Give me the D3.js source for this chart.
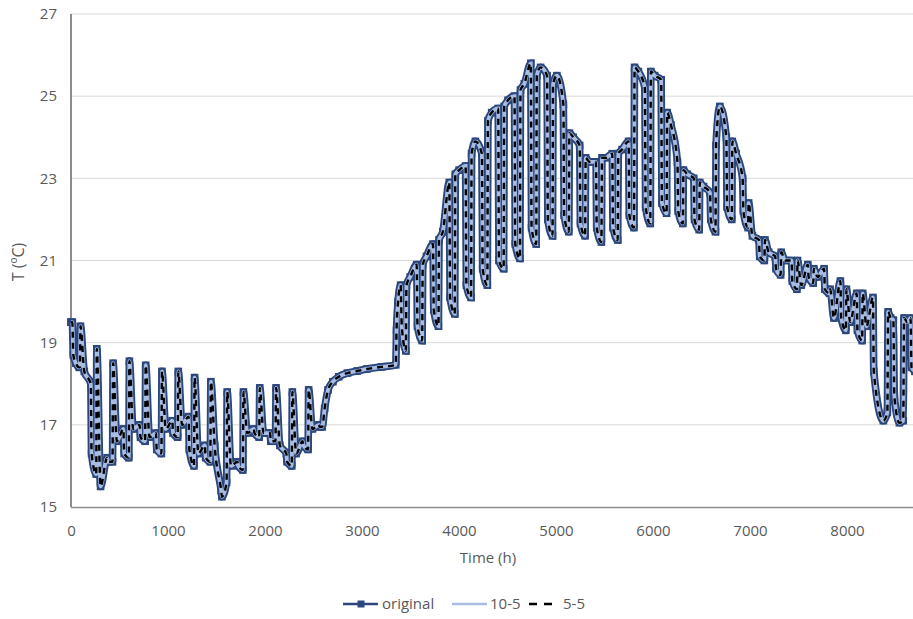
<!DOCTYPE html>
<html><head><meta charset="utf-8">
<script src="https://cdn.jsdelivr.net/npm/d3@7"></script>
<style>
body{margin:0;background:#fff;}
text{font-family:"Open Sans",sans-serif;}
</style>
</head><body>
<svg id="chart" width="913" height="619"></svg>
<script>
// ---------- data ----------
const xTicks = [0,1000,2000,3000,4000,5000,6000,7000,8000];
const yTicks = [15,17,19,21,23,25,27];
const seriesNames = ["original","10-5","5-5"];

// first days of January
const janStart = [[0,19.5],[14,19.5],[24,18.7],[50,18.5],[85,18.4]];

// weekly cycles: hour of the Monday rise, weekend low before it,
// peak after the rise, mid-week level, end-of-week level, level after the Friday drop
const weekStart = [92,260,428,596,764,932,1100,1268,1436,1604,1772,1940,2108,2276,2444,
  3452,3620,3788,3956,4124,4292,4460,4628,4796,4964,5132,5300,5468,5636,5804,5972,6140,
  6308,6476,6644,6812,6980,7148,7316,7484,7652,7820,7988,8156];
const weekendLow = [18.4,15.8,16.1,16.2,16.6,16.3,16.7,16.0,16.1,15.6,15.9,16.7,16.6,16.0,16.4,
  18.8,19.05,19.4,19.7,20.1,20.4,20.8,21.05,21.4,21.6,21.7,21.6,21.45,21.5,21.8,21.9,22.15,
  21.9,21.75,21.7,22.0,21.8,21.0,20.65,20.3,20.45,20.2,19.3,19.05];
const peakT = [19.4,18.85,18.5,18.55,18.45,18.3,18.3,18.15,18.05,17.8,17.8,17.9,17.9,17.8,17.85,
  20.4,20.9,21.5,23.1,23.6,24.4,24.75,25.15,25.5,25.3,24.1,23.5,23.5,23.6,25.7,25.6,24.6,
  23.2,22.9,23.8,23.9,22.4,21.5,21.2,21.0,20.8,20.3,20.3,20.2];
const midWeekT = [18.3,15.5,16.6,16.9,16.7,16.9,17.0,16.3,16.5,16.0,16.8,16.8,16.5,16.3,16.9,
  20.6,21.1,21.7,23.2,23.9,24.6,24.9,25.3,25.7,25.5,24.0,23.4,23.5,23.7,25.6,25.5,24.3,
  23.1,22.8,24.75,23.6,21.6,21.2,21.0,20.4,20.6,19.6,19.5,19.4];
const endWeekT = [18.0,16.2,16.9,17.0,16.8,17.1,17.2,16.5,15.4,16.1,16.9,16.8,16.3,16.6,17.0,
  20.9,21.4,22.9,23.3,23.6,24.7,25.0,25.8,25.5,24.8,23.8,23.4,23.6,23.9,25.2,25.4,23.4,
  23.0,22.65,24.0,23.0,21.5,21.1,21.0,20.9,20.8,20.5,20.2,20.1];
const afterDropT = [16.3,16.1,16.3,16.7,16.4,16.8,16.4,16.2,15.25,16.0,16.8,16.6,16.1,16.5,16.95,
  19.4,19.8,20.1,20.4,20.8,21.0,21.4,21.8,22.0,22.1,21.9,21.8,21.8,22.1,22.3,22.4,22.2,
  22.0,22.0,22.3,22.2,21.1,20.8,20.5,20.6,20.3,19.6,19.3,18.3];

// spring period without weekly cycles, then the jump
const springPlateau = [[2590,16.95],[2615,17.4],[2650,17.85],[2700,18.05],[2760,18.17],[2850,18.26],
  [2950,18.31],[3050,18.36],[3200,18.41],[3348,18.46],[3356,19.3],[3372,20.0],[3398,20.4],[3410,19.4]];

// last weeks of December
const decEnd = [[8375,17.1],[8416,17.3],[8424,19.75],[8450,19.6],[8478,19.55],[8488,17.7],[8540,17.05],
  [8580,17.1],[8588,19.6],[8620,19.5],[8655,19.6],[8665,18.4],[8700,18.3],[8760,18.2]];

// offsets (h) of the key moments inside a week
const weekOffsets = [0,6,45,112,120];

// ---------- build series ----------
function buildSeries(){
  const pts = janStart.slice();
  weekStart.forEach((r,i)=>{
    const vals=[weekendLow[i],peakT[i],midWeekT[i],endWeekT[i],afterDropT[i]];
    weekOffsets.forEach((o,j)=>pts.push([r+o,vals[j]]));
  });
  springPlateau.forEach(p=>pts.push(p));
  decEnd.forEach(p=>pts.push(p));
  pts.sort((a,b)=>a[0]-b[0]);
  return pts;
}
const original = buildSeries();
const s105 = buildSeries();
const s55 = buildSeries();

// ---------- drawing ----------
const svg = d3.select("#chart");
const x = d3.scaleLinear().domain([0,9000]).range([71,944]);
const y = d3.scaleLinear().domain([15,27]).range([507,14]);
const fs = "15px";

// gridlines
svg.append("g").selectAll("line").data(yTicks.filter(d=>d>15)).join("line")
  .attr("x1",71).attr("x2",944).attr("y1",d=>y(d)).attr("y2",d=>y(d))
  .attr("stroke","#d9d9d9").attr("stroke-width",1);

// axes
const gy = svg.append("g").attr("transform","translate(71,0)")
  .call(d3.axisLeft(y).tickValues(yTicks).tickSize(0).tickPadding(14).tickFormat(d3.format("d")));
gy.select(".domain").remove();
gy.selectAll("text").attr("fill","#595959").style("font-size",fs);

const gx = svg.append("g").attr("transform","translate(0,507)")
  .call(d3.axisBottom(x).tickValues(xTicks).tickSize(0).tickPadding(18).tickFormat(d3.format("d")));
gx.select(".domain").remove();
gx.selectAll("text").attr("fill","#595959").style("font-size",fs);

svg.append("line").attr("x1",71).attr("x2",944).attr("y1",507.5).attr("y2",507.5)
  .attr("stroke","#8c8c8c").attr("stroke-width",1.5);
svg.append("line").attr("x1",71).attr("x2",71).attr("y1",14).attr("y2",507)
  .attr("stroke","#404040").attr("stroke-width",1.2);

// axis titles
svg.append("text").attr("x",488).attr("y",563).attr("text-anchor","middle")
  .attr("fill","#595959").style("font-size",fs).text("Time (h)");
svg.append("text").attr("transform","translate(24,262) rotate(-90)").attr("text-anchor","middle")
  .attr("fill","#595959").style("font-size","16px").text("T (ºC)");

// series
const line = d3.line().x(d=>x(d[0])).y(d=>y(d[1])).curve(d3.curveMonotoneX);
const cDark="#2b477c", cLight="#a9bce1";

svg.append("path").datum(original).attr("d",line).attr("fill","none")
  .attr("stroke",cDark).attr("stroke-width",7.6).attr("stroke-linejoin","miter").attr("stroke-linecap","square");
svg.append("g").selectAll("rect").data(original).join("rect")
  .attr("x",d=>x(d[0])-3.8).attr("y",d=>y(d[1])-3.8).attr("width",7.6).attr("height",7.6)
  .attr("fill",cDark);
svg.append("path").datum(s105).attr("d",line).attr("fill","none")
  .attr("stroke",cLight).attr("stroke-width",3.8);
svg.append("path").datum(s55).attr("d",line).attr("fill","none")
  .attr("stroke","#000").attr("stroke-width",2.4).attr("stroke-dasharray","6,5");

// legend
const lg = svg.append("g");
const ly = 604;
lg.append("line").attr("x1",343).attr("x2",378).attr("y1",ly).attr("y2",ly).attr("stroke",cDark).attr("stroke-width",2.5);
lg.append("rect").attr("x",357.5).attr("y",ly-3.5).attr("width",7).attr("height",7).attr("fill",cDark);
lg.append("text").attr("x",382).attr("y",ly+5).attr("fill","#595959").style("font-size",fs).text(seriesNames[0]);
lg.append("line").attr("x1",452).attr("x2",487).attr("y1",ly).attr("y2",ly).attr("stroke",cLight).attr("stroke-width",2.5);
lg.append("text").attr("x",490).attr("y",ly+5).attr("fill","#595959").style("font-size",fs).text(seriesNames[1]);
lg.append("line").attr("x1",529).attr("x2",559).attr("y1",ly).attr("y2",ly).attr("stroke","#000").attr("stroke-width",2.5)
  .attr("stroke-dasharray","8,7");
lg.append("text").attr("x",563).attr("y",ly+5).attr("fill","#595959").style("font-size",fs).text(seriesNames[2]);
</script>
</body></html>
